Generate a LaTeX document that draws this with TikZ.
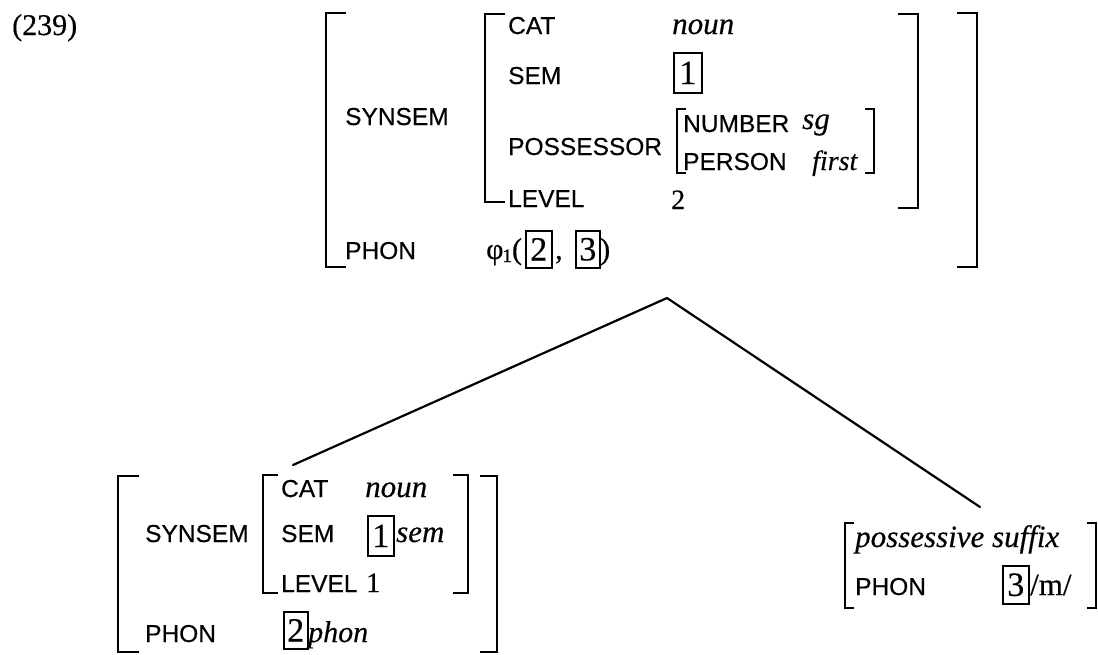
\documentclass[tikz,border=0pt]{standalone}
\usepackage{fontspec}
\setmainfont{Liberation Serif}[FakeBold=0.4]
\newfontfamily\lab{Liberation Sans}[FakeBold=0.4]
\begin{document}
\begin{tikzpicture}[x=1pt,y=-1pt,
  lab/.style={anchor=base west, inner sep=0pt, font=\lab\fontsize{24.5}{24.5}\selectfont},
  itx/.style={anchor=base west, inner sep=0pt, font=\fontsize{31}{31}\selectfont\itshape},
  rmx/.style={anchor=base west, inner sep=0pt, font=\fontsize{30}{30}\selectfont},
  numbox/.style={draw, line width=1.6pt, anchor=north west, inner sep=0pt,
    minimum width=25pt, minimum height=38pt, font=\fontsize{34}{34}\selectfont},
  brk/.style={line width=2.8pt, line cap=butt, line join=miter},
  branch/.style={line width=2.2pt, line cap=round}]
\useasboundingbox (0,0) rectangle (1098,654);

% example number
\node[rmx] (num) at (12,35) {(239)};

% ===== top AVM =====
\draw[brk] (346,13) -- (326,13) -- (326,267) -- (346,267);
\draw[brk] (957,13) -- (977,13) -- (977,267) -- (957,267);
\node[lab] (synsem) at (345,125) {SYNSEM};
\node[lab] (phon) at (345,259) {PHON};

\draw[brk] (505,14) -- (485,14) -- (485,202) -- (505,202);
\draw[brk] (898,14) -- (918,14) -- (918,208) -- (898,208);
\node[lab] (cat) at (508,34) {CAT};
\node[itx] (catv) at (672,34) {noun};
\node[lab] (sem) at (508,84) {SEM};
\node[numbox, minimum width=28pt, minimum height=40pt] (b1) at (673,52) {1};
\node[lab] (poss) at (508,155) {POSSESSOR};
\draw[brk, line width=2.2pt] (686,109) -- (677,109) -- (677,173) -- (686,173);
\draw[brk, line width=2.2pt] (865,109) -- (874,109) -- (874,173) -- (865,173);
\node[lab] (number) at (683,132) {NUMBER};
\node[itx] (sg) at (802,129) {sg};
\node[lab] (person) at (683,170) {PERSON};
\node[itx, font=\fontsize{28}{28}\selectfont\itshape] (first) at (812,170) {first};
\node[lab] (level) at (508,207) {LEVEL};
\node[rmx, font=\fontsize{28}{28}\selectfont] (lv) at (671,209) {2};

\node[rmx] (phi) at (486,259) {φ\kern-1pt\raisebox{-3pt}{\fontsize{19}{19}\selectfont 1}(};
\node[numbox, minimum width=26pt, minimum height=37pt] (b2) at (525,230) {2};
\node[rmx] (comma) at (555,259) {,};
\node[numbox, minimum width=24pt, minimum height=37pt] (b3) at (575,230) {3};
\node[rmx] (rp) at (600,259) {)};

% ===== tree =====
\coordinate (apex) at (667,298);
\coordinate (lattach) at (293,465);
\coordinate (rattach) at (980,507);
\draw[branch] (apex) -- (lattach);
\draw[branch] (apex) -- (rattach);

% ===== lower-left AVM =====
\draw[brk] (139,476) -- (118,476) -- (118,652) -- (139,652);
\draw[brk] (480,476) -- (497,476) -- (497,652) -- (480,652);
\node[lab] (lsynsem) at (145,542) {SYNSEM};
\node[lab] (lphon) at (145,642) {PHON};
\draw[brk] (278,475) -- (263,475) -- (263,593) -- (278,593);
\draw[brk] (453,475) -- (468,475) -- (468,593) -- (453,593);
\node[lab] (lcat) at (281,497) {CAT};
\node[itx] (lcatv) at (365,497) {noun};
\node[lab] (lsem) at (281,542) {SEM};
\node[numbox, minimum width=26pt, minimum height=40pt] (lb1) at (367,515) {1};
\node[itx] (lsemv) at (396,542) {sem};
\node[lab] (llevel) at (281,592) {LEVEL};
\node[rmx, font=\fontsize{28}{28}\selectfont] (llv) at (366,592) {1};
\node[numbox, minimum width=24pt, minimum height=37pt] (lb2) at (283,611) {2};
\node[itx, font=\fontsize{30}{30}\selectfont\itshape] (lphonv) at (308,642) {phon};

% ===== lower-right AVM =====
\draw[brk, line width=2.2pt] (854,523) -- (845,523) -- (845,608) -- (854,608);
\draw[brk, line width=2.2pt] (1087,523) -- (1096,523) -- (1096,608) -- (1087,608);
\node[itx] (suffix) at (855,547) {possessive suffix};
\node[lab] (rphon) at (855,595) {PHON};
\node[numbox, minimum width=26pt, minimum height=38pt] (rb3) at (1002,565) {3};
\node[rmx, font=\fontsize{31}{31}\selectfont] (m) at (1030,595) {/m/};
\end{tikzpicture}
\end{document}
